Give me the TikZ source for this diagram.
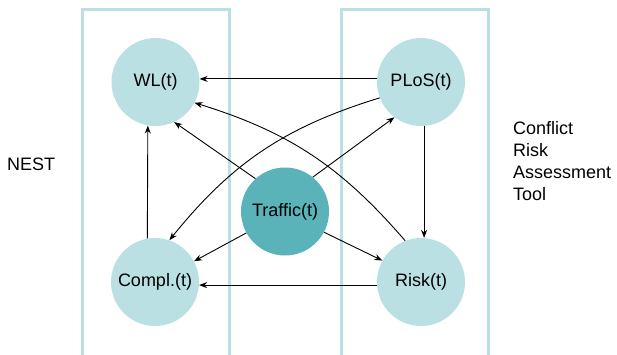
\documentclass[tikz,border=0pt]{standalone}
\usepackage{fontspec}
\setmainfont{Liberation Sans}
\usetikzlibrary{arrows.meta,positioning}
\definecolor{lteal}{HTML}{BBE0E3}
\definecolor{dteal}{HTML}{5BB3BA}

\begin{document}
\begin{tikzpicture}[
  x=1pt,y=1pt,
  font=\fontsize{18}{22}\selectfont,
  var/.style={circle,fill=lteal,minimum size=88pt,inner sep=0pt},
  src/.style={circle,fill=dteal,minimum size=88pt,inner sep=0pt},
  grp/.style={lteal,line width=3pt},
  arc/.style={-{Stealth[length=8pt,width=6pt]},line width=0.9pt,black},
]
  \useasboundingbox (0,0) rectangle (617,354);

  % Group frames: NEST and the risk tool
  \draw[grp] (82,-2) |- (229,344) -- (229,-2);
  \draw[grp] (341,-2) |- (488,344) -- (488,-2);

  \node[var] (WL) at (155.5,272) {WL(t)};
  \node[var] (PLoS) at (421,272) {PLoS(t)};
  \node[var] (Compl) at (155,72) {Compl.(t)};
  \node[var] (Risk) at (421,72) {Risk(t)};
  \node[src] (Traffic) at (285,142.5) {Traffic(t)};

  \node[anchor=west,inner sep=0pt] (nest) at (7,190) {NEST};
  \node[anchor=north west,align=left,inner sep=0pt] (crat) at (513,233)
    {Conflict\\Risk\\Assessment\\Tool};

  % Straight links inside and between the frames
  \draw[arc] (PLoS.176) -- (WL.4);
  \draw[arc] (Risk.184) -- (Compl.-4);
  \draw[arc] (Compl.100) -- (WL.260);
  \draw[arc] (PLoS.274) -- (Risk.86);

  % Traffic drives all four
  \draw[arc] (Traffic.132) -- (WL.295);
  \draw[arc] (Traffic.51) -- (PLoS.233);
  \draw[arc] (Traffic.209) -- (Compl.28);
  \draw[arc] (Traffic.332) -- (Risk.151);

  % Crossing curves
  \draw[arc] (Risk.111) to[bend right=16] (WL.332);
  \draw[arc] (PLoS.201) to[bend right=17] (Compl.71);
\end{tikzpicture}
\end{document}
